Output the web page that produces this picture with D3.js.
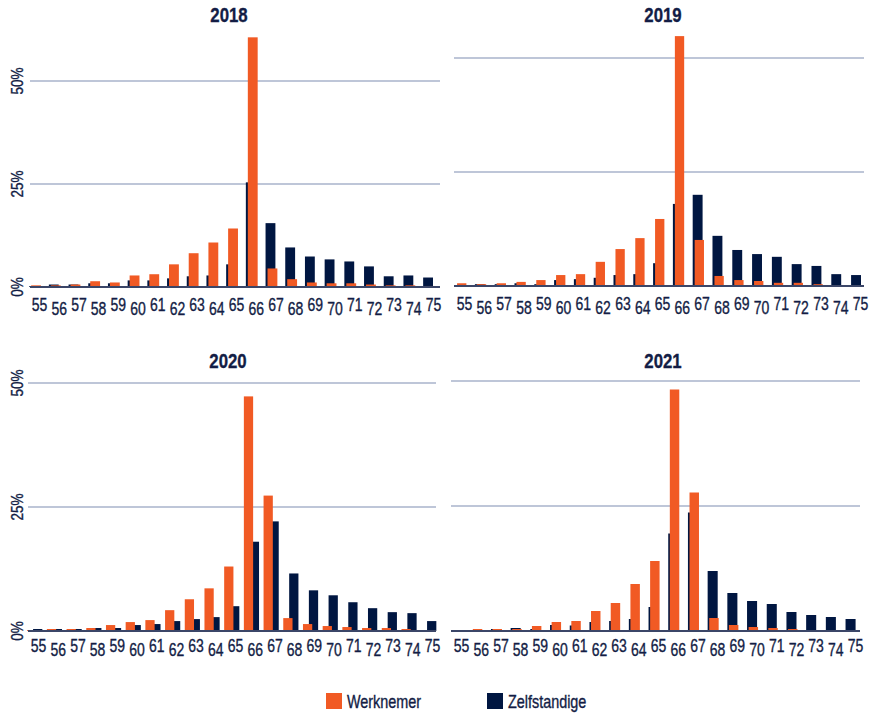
<!DOCTYPE html>
<html>
<head>
<meta charset="utf-8">
<script src="https://cdn.jsdelivr.net/npm/d3@7"></script>
<style>
  body { margin: 0; background: #fff; }
  text { font-family: "Liberation Sans", Arial, sans-serif; fill: #131d45; stroke: #131d45; stroke-width: 0.35px; }
</style>
</head>
<body>
<script>
// leeftijden 55..75
var ages = d3.range(55, 76).map(String);
var years = ["2018", "2019", "2020", "2021"];

// aandeel (%) per leeftijd
var werknemer2018 = [0.4, 0.4, 0.6, 1.4, 1.1, 2.8, 3.1, 5.5, 8.2, 10.8, 14.2, 60.6, 4.5, 1.9, 1.1, 0.9, 0.9, 0.6, 0.4, 0.4, 0.25];
var zelfstandig2018 = [0.2, 0.6, 0.6, 0.9, 0.9, 1.6, 1.6, 2.1, 2.6, 2.8, 5.5, 25.4, 15.5, 9.6, 7.4, 6.7, 6.2, 5.0, 2.6, 2.8, 2.3];
var werknemer2019 = [0.6, 0.4, 0.6, 0.9, 1.3, 2.4, 2.6, 5.3, 8.1, 10.5, 14.7, 54.8, 10.1, 2.2, 1.3, 1.1, 0.7, 0.7, 0.4, 0.2, 0.2];
var zelfstandig2019 = [0.2, 0.4, 0.4, 0.6, 0.4, 1.3, 1.5, 1.8, 2.4, 2.6, 5.0, 18.0, 20.0, 11.0, 7.9, 7.0, 6.4, 4.8, 4.4, 2.6, 2.4];
var werknemer2020 = [0.2, 0.4, 0.4, 0.6, 1.2, 1.8, 2.2, 4.2, 6.4, 8.6, 13.0, 47.3, 27.3, 2.6, 1.4, 1.0, 0.8, 0.6, 0.6, 0.4, 0.2];
var zelfstandig2020 = [0.4, 0.4, 0.4, 0.6, 0.6, 1.2, 1.4, 2.0, 2.4, 2.8, 5.0, 18.0, 22.1, 11.6, 8.2, 7.2, 5.8, 4.6, 3.8, 3.6, 2.0];
var werknemer2021 = [0.2, 0.4, 0.4, 0.4, 1.0, 1.8, 2.0, 4.0, 5.6, 9.4, 14.0, 48.3, 27.7, 2.6, 1.2, 0.8, 0.6, 0.4, 0.2, 0.2, 0.2];
var zelfstandig2021 = [0.2, 0.2, 0.4, 0.6, 0.4, 1.2, 1.1, 1.8, 2.0, 2.4, 4.8, 19.5, 23.7, 12.0, 7.6, 6.0, 5.4, 3.8, 3.2, 2.8, 2.4];

var werknemer = [werknemer2018, werknemer2019, werknemer2020, werknemer2021];
var zelfstandig = [zelfstandig2018, zelfstandig2019, zelfstandig2020, zelfstandig2021];
var yTicks = [0, 25, 50];

var orange = "#f15a24";
var navy = "#001641";
var narrow = " scale(0.8,1)"; // smalle letter zoals in het origineel

var svg = d3.select("body").append("svg")
  .attr("width", 870)
  .attr("height", 714);

// plaatsing van de vier panelen
var panels = [
  { gx: [30, 440], lx: [39, 433], base: 287, y25: 184, titleX: 229, titleY: 22, lab: [24, 28], yLabels: true,
    nv: [-0.5, 0.0], or: [-0.4, 0.1] },
  { gx: [454, 864], lx: [464, 860], base: 286, y25: 172, titleX: 663, titleY: 22, lab: [24, 28], yLabels: false,
    nv: [-0.45, 0.05], or: [-0.35, 0.12] },
  { gx: [28, 436], lx: [38, 432], base: 631, y25: 507, titleX: 228, titleY: 368, lab: [21, 25], yLabels: true,
    nv: [-0.25, 0.22], or: [-0.55, -0.08] },
  { gx: [451, 860], lx: [461, 855], base: 631, y25: 506, titleX: 663, titleY: 368, lab: [21, 25], yLabels: false,
    nv: [-0.48, 0.03], or: [-0.4, 0.08] }
];

panels.forEach(function (p, k) {
  var g = svg.append("g");
  var x = d3.scalePoint().domain(ages).range(p.lx);
  var step = x.step();
  var y = d3.scaleLinear().domain([0, 25]).range([p.base, p.y25]);

  // rasterlijnen
  g.selectAll(".grid")
    .data(yTicks.slice(1))
    .enter()
    .append("line")
    .attr("x1", p.gx[0])
    .attr("x2", p.gx[1])
    .attr("y1", function (d) { return y(d); })
    .attr("y2", function (d) { return y(d); })
    .attr("stroke", "#a9b3cb")
    .attr("stroke-width", 1.6);

  if (p.yLabels) {
    g.selectAll(".ylab")
      .data(yTicks)
      .enter()
      .append("text")
      .attr("transform", function (d) { return "translate(23," + y(d) + ") rotate(-90)" + narrow; })
      .attr("text-anchor", "middle")
      .style("font-size", "17px")
      .text(function (d) { return d + "%"; });
  }

  // zelfstandigen eerst, werknemers er overheen
  g.selectAll(".nv")
    .data(zelfstandig[k])
    .enter()
    .append("rect")
    .attr("x", function (d, i) { return x(ages[i]) + p.nv[0] * step; })
    .attr("width", (p.nv[1] - p.nv[0]) * step)
    .attr("y", function (d) { return y(d); })
    .attr("height", function (d) { return y(0) - y(d); })
    .attr("fill", navy);

  g.selectAll(".or")
    .data(werknemer[k])
    .enter()
    .append("rect")
    .attr("x", function (d, i) { return x(ages[i]) + p.or[0] * step; })
    .attr("width", (p.or[1] - p.or[0]) * step)
    .attr("y", function (d) { return y(d); })
    .attr("height", function (d) { return y(0) - y(d); })
    .attr("fill", orange);

  // basislijn
  g.append("line")
    .attr("x1", p.gx[0])
    .attr("x2", p.gx[1])
    .attr("y1", y(0))
    .attr("y2", y(0))
    .attr("stroke", "#3b4668")
    .attr("stroke-width", 1.8);

  // leeftijdslabels, om en om hoger/lager
  var axis = g.append("g")
    .attr("transform", "translate(0," + y(0) + ")")
    .call(d3.axisBottom(x).tickSize(0).tickPadding(0));
  axis.select(".domain").remove();
  axis.selectAll("text")
    .attr("y", 0)
    .attr("dy", 0)
    .attr("transform", function (d, i) { return "translate(0," + p.lab[i % 2] + ")" + narrow; })
    .style("font-size", "17.5px")
    .style("font-family", null)
    .attr("fill", null);

  g.append("text")
    .attr("transform", "translate(" + p.titleX + "," + p.titleY + ")" + narrow)
    .attr("text-anchor", "middle")
    .style("font-size", "21px")
    .style("font-weight", "bold")
    .text(years[k]);
});

// legenda
var legend = [
  { name: "Werknemer", color: orange, x: 326 },
  { name: "Zelfstandige", color: navy, x: 487 }
];
var lg = svg.selectAll(".legend")
  .data(legend)
  .enter()
  .append("g")
  .attr("transform", function (d) { return "translate(" + d.x + ",693)"; });
lg.append("rect")
  .attr("width", 16)
  .attr("height", 16)
  .attr("fill", function (d) { return d.color; });
lg.append("text")
  .attr("transform", "translate(21,15)" + narrow)
  .style("font-size", "18px")
  .text(function (d) { return d.name; });
</script>
</body>
</html>
